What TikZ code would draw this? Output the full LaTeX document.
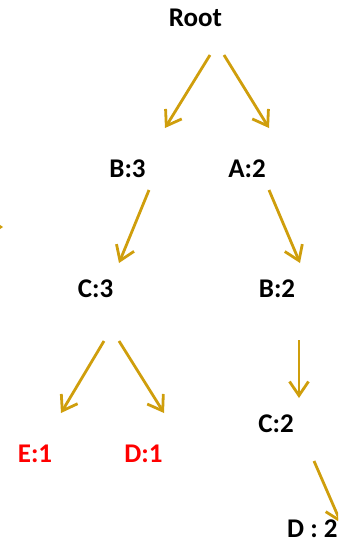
\documentclass[tikz,border=0pt]{standalone}
\usepackage{fontspec}
\setmainfont{Carlito}
\usetikzlibrary{arrows.meta,calc}
\definecolor{gold}{RGB}{207,158,12}
\definecolor{lbl}{RGB}{0,0,0}
\definecolor{hot}{RGB}{255,0,0}
\tikzset{
  lab/.style={inner sep=0pt, anchor=base, font=\fontsize{27}{32}\selectfont\bfseries, text=lbl},
  redlab/.style={lab, text=hot},
  arr/.style={draw=gold, line width=2.8pt, -{Straight Barb[length=14pt,width=19pt]}}
}
\begin{document}
\begin{tikzpicture}[x=1pt,y=-1pt]
\useasboundingbox (0,0) rectangle (338,541);
\clip (0,0) rectangle (338,541);
\node[lab] (root) at (195.5,26) {Root};
\node[lab] (b3) at (127.5,177) {B:3};
\node[lab] (a2) at (247,177) {A:2};
\node[lab] (c3) at (95.5,297) {C:3};
\node[lab] (b2) at (277,297) {B:2};
\node[redlab] (e1) at (35,462) {E:1};
\node[redlab] (d1) at (143.5,462) {D:1};
\node[lab] (c2) at (276,432) {C:2};
\node[lab, anchor=base west] (d2) at (287,537) {D : 2};
\coordinate (stray) at (3,227);
\coordinate (straystart) at (-40,227);
\draw[arr] ($(root.base)+(14.5,29)$) -- ($(b3.base)+(37.5,-49)$);
\draw[arr] ($(root.base)+(28.5,29)$) -- ($(a2.base)+(22,-49)$);
\draw[arr] ($(b3.base)+(21.5,13)$) -- ($(c3.base)+(23.5,-34)$);
\draw[arr] ($(a2.base)+(22,13)$) -- ($(b2.base)+(23,-34)$);
\draw[arr] ($(c3.base)+(8.5,44)$) -- ($(e1.base)+(26,-49)$);
\draw[arr] ($(c3.base)+(23.5,44)$) -- ($(d1.base)+(20.5,-49)$);
\draw[arr] ($(b2.base)+(22,43)$) -- ($(c2.base)+(23,-34)$);
\draw[arr] ($(c2.base)+(38,29)$) -- ($(d2.base west)+(54,-14)$);
\draw[arr] (straystart) -- (stray);
\end{tikzpicture}
\end{document}
